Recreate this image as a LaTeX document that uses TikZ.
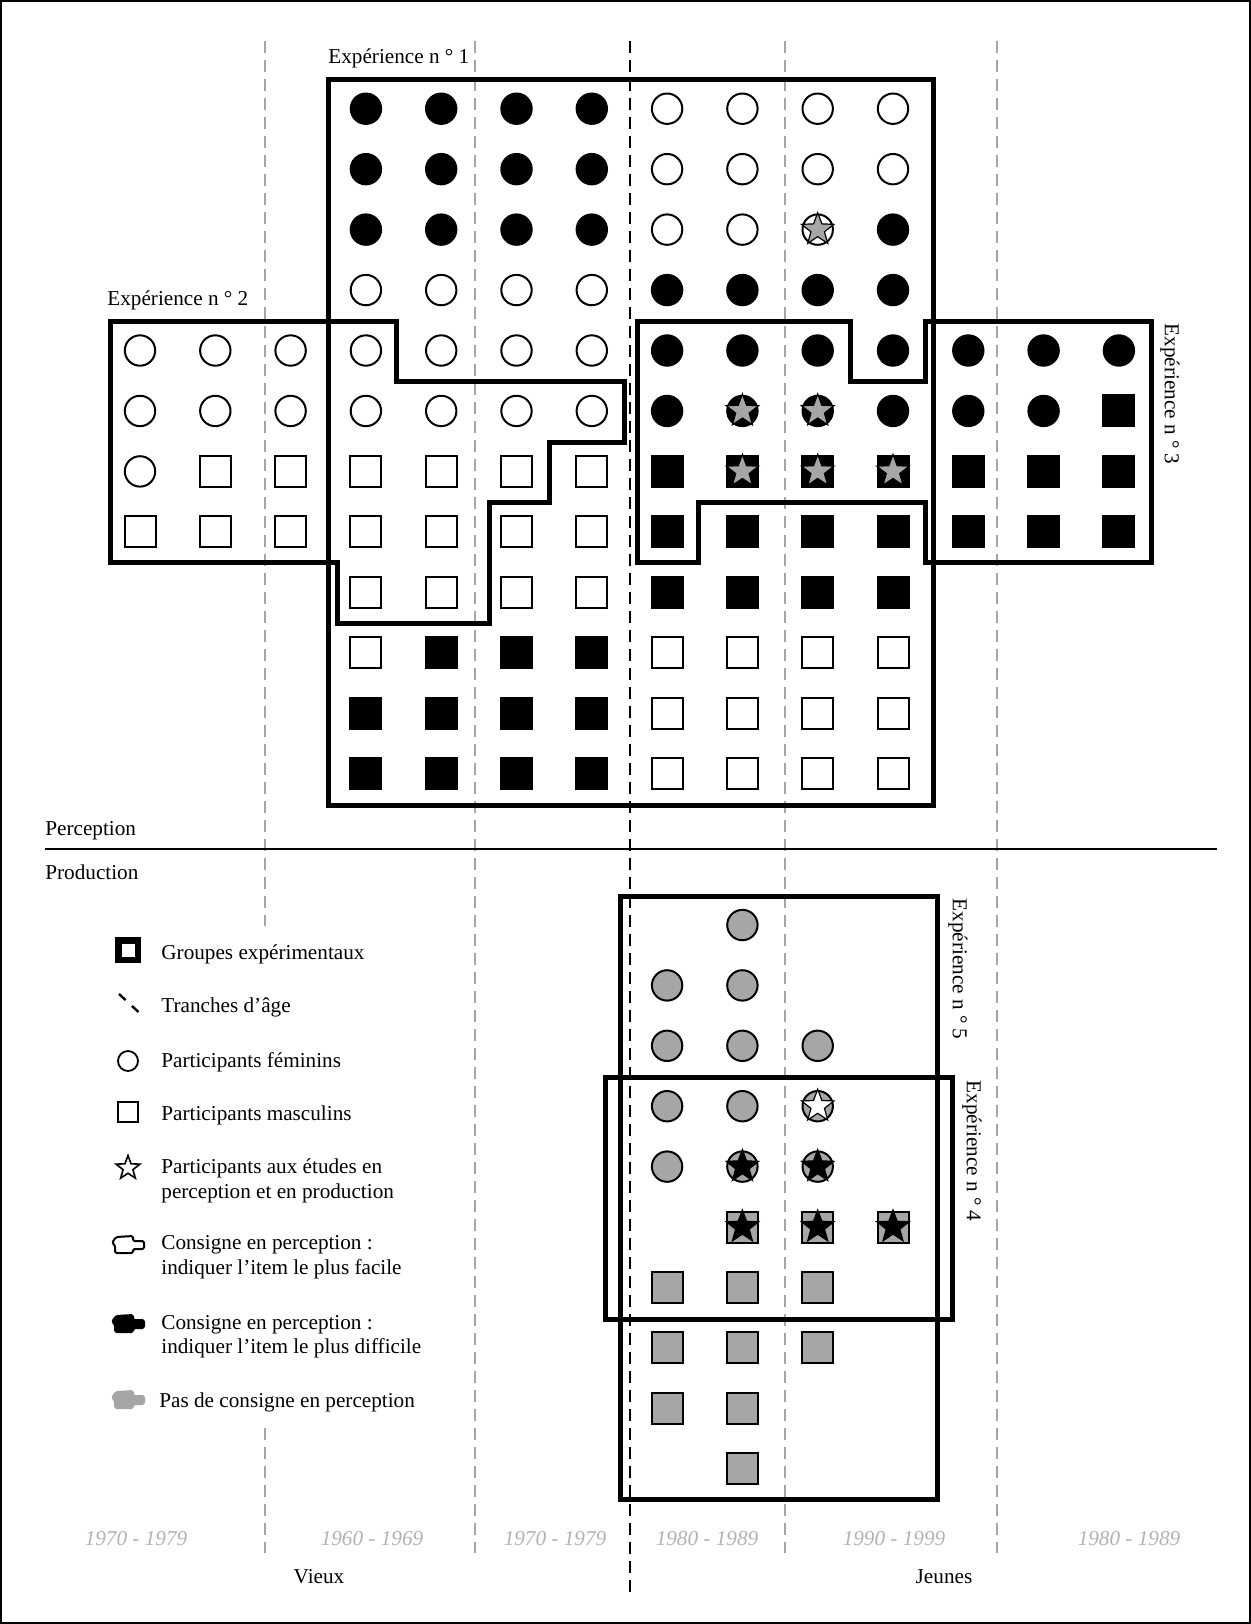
\documentclass[tikz,border=0pt]{standalone}
\usepackage{fontspec}
\setmainfont{Liberation Serif}
\usetikzlibrary{shapes.geometric,positioning}
\definecolor{mid}{RGB}{166,166,166}
\definecolor{lite}{RGB}{178,178,178}
\tikzset{
  lbl/.style={font=\fontsize{10.6}{12.2}\selectfont,inner sep=0pt},
  yr/.style={lbl,font=\fontsize{10.6}{12.2}\selectfont\itshape,text=lite},
  grp/.style={line width=2.5pt},
  age/.style={mid,line width=1pt,dash pattern=on 6pt off 3.5pt},
  mkB/.style={circle,draw,fill=black,line width=1pt,minimum size=15.2pt,inner sep=0pt},
  mkW/.style={mkB,fill=white},
  mkG/.style={mkB,fill=mid},
  mkS/.style={rectangle,draw,fill=black,line width=1pt,minimum size=15.5pt,inner sep=0pt},
  mkQ/.style={mkS,fill=white},
  mkH/.style={mkS,fill=mid},
  pst/.style={star,star points=5,star point ratio=2.4,draw,line width=0.6pt,minimum size=17pt,inner sep=0pt},
  hand/.pic={\path[pic actions,rounded corners=0.8pt] (-12,-8) -- (5,-9) -- (5,-4) -- (16,-4) -- (16,4) -- (5,4) -- (5,8) -- (-13,8) -- (-13,0) -- (-16,-2) -- cycle;}
}

\begin{document}
\begin{tikzpicture}[x=0.5pt,y=-0.5pt]
  \useasboundingbox (0,0) rectangle (1251,1624);
  \draw[line width=1pt] (1,1) rectangle (1250,1623);
  \foreach \x in {265,475,785,997} \draw[age] (\x,41) -- (\x,1553);
  \draw[line width=1.2pt,dash pattern=on 6pt off 3.5pt] (630,41) -- (630,1592);
  \draw[line width=1pt] (45,849) -- (1217,849);
  \fill[white] (100,926) rectangle (440,1422);

  \foreach \row [count=\r from 0] in {{-,-,-,B,B,B,B,W,W,W,W,-,-,-},{-,-,-,B,B,B,B,W,W,W,W,-,-,-},{-,-,-,B,B,B,B,W,W,W,B,-,-,-},{-,-,-,W,W,W,W,B,B,B,B,-,-,-},{W,W,W,W,W,W,W,B,B,B,B,B,B,B},{W,W,W,W,W,W,W,B,B,B,B,B,B,S},{W,Q,Q,Q,Q,Q,Q,S,S,S,S,S,S,S},{Q,Q,Q,Q,Q,Q,Q,S,S,S,S,S,S,S},{-,-,-,Q,Q,Q,Q,S,S,S,S,-,-,-},{-,-,-,Q,S,S,S,Q,Q,Q,Q,-,-,-},{-,-,-,S,S,S,S,Q,Q,Q,Q,-,-,-},{-,-,-,S,S,S,S,Q,Q,Q,Q,-,-,-}}
    \foreach \t [count=\c from 0] in \row {\if\t-\else\node[mk\t] (p-\r-\c) at ({140+75.3*\c},{108.7+60.45*\r}) {};\fi}
  \foreach \c/\r in {9/2,8/5,9/5,8/6,9/6,10/6} \node[pst,fill=mid] (ps-\r-\c) at ({140+75.3*\c},{108.7+60.45*\r}) {};

  \foreach \row [count=\r from 0] in {{-,G,-,-},{G,G,-,-},{G,G,G,-},{G,G,G,-},{G,G,G,-},{-,H,H,H},{H,H,H,-},{H,H,H,-},{H,H,-,-},{-,H,-,-}}
    \foreach \t [count=\c from 7] in \row {\if\t-\else\node[mk\t] (q-\r-\c) at ({140+75.3*\c},{925+60.4*\r}) {};\fi}
  \foreach \c/\r/\f in {9/3/white,8/4/black,9/4/black,8/5/black,9/5/black,10/5/black} \node[pst,fill=\f] (qs-\r-\c) at ({140+75.3*\c},{925+60.4*\r}) {};

  \draw[grp] (328,79) rectangle (933,805);
  \draw[grp] (110,321) -- (396,321) -- (396,381) -- (624,381) -- (624,442) -- (549,442) -- (549,502) -- (489,502) -- (489,623) -- (337,623) -- (337,562) -- (110,562) -- cycle;
  \draw[grp] (637,321) -- (850,321) -- (850,381) -- (925,381) -- (925,321) -- (1151,321) -- (1151,562) -- (925,562) -- (925,502) -- (698,502) -- (698,562) -- (637,562) -- cycle;
  \draw[grp] (620,896) rectangle (937,1499);
  \draw[grp] (605,1077) rectangle (952,1319);

  \node[lbl,anchor=base west] (e1) at (328,63) {Expérience n ° 1};
  \node[lbl,anchor=base west] (e2) at (107,305) {Expérience n ° 2};
  \node[lbl,rotate=-90] (e3) at (1170,394) {Expérience n ° 3};
  \node[lbl,rotate=-90] (e5) at (958,969) {Expérience n ° 5};
  \node[lbl,rotate=-90] (e4) at (972,1151) {Expérience n ° 4};
  \node[lbl,anchor=base west] (perc) at (45,835) {Perception};
  \node[lbl,anchor=base west] (prod) at (45,879) {Production};
  \foreach \x/\t [count=\i] in {136/1970 - 1979,372/1960 - 1969,555/1970 - 1979,707/1980 - 1989,894/1990 - 1999,1129/1980 - 1989} \node[yr,anchor=base] (yr\i) at (\x,1545) {\t};
  \node[lbl,anchor=base] (old) at (319,1583) {Vieux};
  \node[lbl,anchor=base] (young) at (944,1583) {Jeunes};

  \fill (115,937) rectangle (141,963);
  \fill[white] (121.5,943.5) rectangle (134.5,956.5);
  \draw[line width=1.2pt,dash pattern=on 4.5pt off 4.3pt] (119,994) -- (138.5,1012);
  \node[mkW,minimum size=10pt,line width=0.9pt] (lf) at (128,1061) {};
  \node[mkQ,minimum size=10pt,line width=0.9pt] (lm) at (128,1112) {};
  \node[pst,fill=white,minimum size=12.5pt,line width=0.8pt] (ls) at (128,1168) {};
  \pic[draw=black,fill=white,line width=1pt] (hf) at (128,1245) {hand};
  \pic[draw=black,fill=black,line width=1pt] (hd) at (128,1324) {hand};
  \pic[draw=mid,fill=mid,line width=1pt] (hn) at (128,1400) {hand};
  \foreach \y/\t [count=\i] in {959/Groupes expérimentaux,1012/Tranches d'âge,1067/Participants féminins,1120/Participants masculins,1173/Participants aux études en,1198/perception et en production,1249/Consigne en perception :,1274/indiquer l'item le plus facile,1329/Consigne en perception :,1353/indiquer l'item le plus difficile}
    \node[lbl,anchor=base west] (lg\i) at (161,\y) {\t};
  \node[lbl,anchor=base west] (lg11) at (159,1407) {Pas de consigne en perception};
\end{tikzpicture}
\end{document}
